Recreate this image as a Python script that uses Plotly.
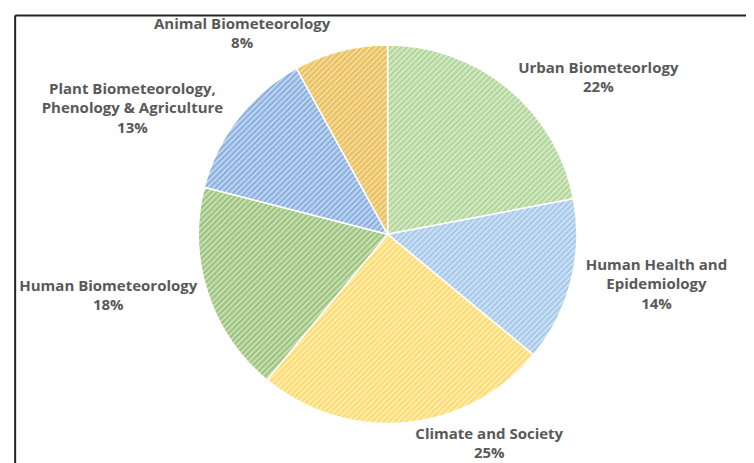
import plotly.graph_objects as go

labels = ["Urban Biometeorlogy", "Human Health and<br>Epidemiology", "Climate and Society",
          "Human Biometeorology", "Plant Biometeorology,<br>Phenology & Agriculture",
          "Animal Biometeorology"]
values = [22, 14, 25, 18, 13, 8]
colors = ["#b1d697", "#a6c9ea", "#ffdb6c", "#9cc47d", "#8ab0e0", "#e9c05c"]
stripe = ["#dcedd0", "#d5e6f6", "#fff1c2", "#d0e4c0", "#cadcf2", "#f6e0a8"]

fig = go.Figure(go.Pie(
    labels=labels, values=values, sort=False, direction="clockwise", rotation=0,
    marker=dict(colors=colors, line=dict(color="white", width=1.5),
                pattern=dict(shape="/", bgcolor=colors, fgcolor=stripe, size=4, solidity=0.4,
                             fillmode="replace")),
    textposition="outside", texttemplate="%{label}<br>%{percent:.0%}",
    outsidetextfont=dict(family="Open Sans", size=15, color="#595959", weight="bold"),
    domain=dict(x=[0.250, 0.757], y=[0.103, 0.924]),
    showlegend=False, hoverinfo="label+percent",
))
fig.update_layout(
    width=754, height=463, margin=dict(l=0, r=0, t=0, b=0),
    paper_bgcolor="white", plot_bgcolor="white",
    shapes=[
        dict(type="line", xref="paper", yref="paper", x0=0.0095, x1=1, y0=0.988, y1=0.988,
             line=dict(color="#222222", width=2)),
        dict(type="line", xref="paper", yref="paper", x0=0.0095, x1=0.0095, y0=0, y1=0.988,
             line=dict(color="#222222", width=2)),
    ],
)
fig.write_html("out.html")
